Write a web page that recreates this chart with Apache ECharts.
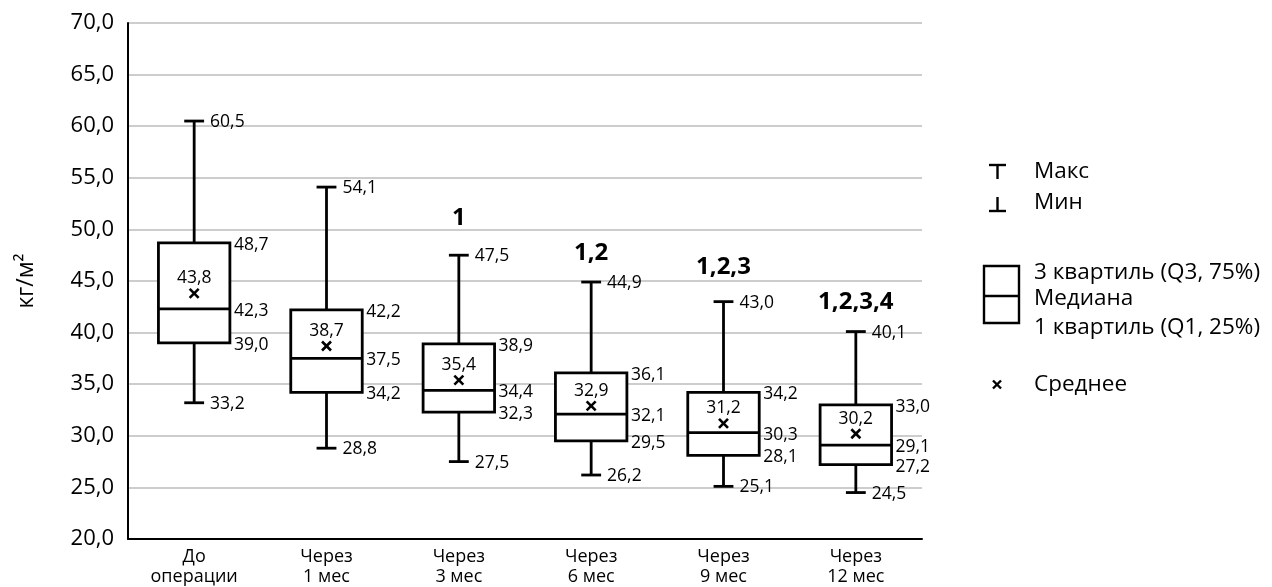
<!DOCTYPE html>
<html>
<head>
<meta charset="utf-8">
<script src="https://cdn.jsdelivr.net/npm/echarts@6/dist/echarts.min.js"></script>
<style>
  html, body { margin: 0; padding: 0; background: #ffffff; }
  #chart { width: 1272px; height: 587px; }
</style>
</head>
<body>
<div id="chart"></div>
<script>
// Body mass index (кг/м²) before surgery and at follow-up points
const categories = ['До\nоперации', 'Через\n1 мес', 'Через\n3 мес', 'Через\n6 мес', 'Через\n9 мес', 'Через\n12 мес'];
const minValues    = [33.2, 28.8, 27.5, 26.2, 25.1, 24.5];
const q1Values     = [39.0, 34.2, 32.3, 29.5, 28.1, 27.2];
const medianValues = [42.3, 37.5, 34.4, 32.1, 30.3, 29.1];
const q3Values     = [48.7, 42.2, 38.9, 36.1, 34.2, 33.0];
const maxValues    = [60.5, 54.1, 47.5, 44.9, 43.0, 40.1];
const meanValues   = [43.8, 38.7, 35.4, 32.9, 31.2, 30.2];
// significant difference vs. earlier time points
const significance = ['', '', '1', '1,2', '1,2,3', '1,2,3,4'];

const yMin = 20, yMax = 70, yStep = 5;

// pixel lift of the significance marks above the top whisker
const sigLift = [0, 0, 37, 29, 34, 29];

const FONT = '"Open Sans", "Noto Sans", sans-serif';
const fmt = v => v.toFixed(1).replace('.', ',');

const rows = categories.map((c, i) => [i, minValues[i], q1Values[i], medianValues[i], q3Values[i], maxValues[i], meanValues[i]]);

const LW = 2.8;
const LABEL_SIZE = 17.5;
function lineEl(x1, y1, x2, y2, w) {
  return { type: 'line', shape: { x1, y1, x2, y2 }, style: { stroke: '#000', lineWidth: w || LW, lineCap: 'butt' } };
}
function textEl(text, x, y, align, size, weight) {
  return {
    type: 'text', x, y, z2: 10,
    style: {
      text, fill: '#000',
      font: (weight || 'normal') + ' ' + size + 'px ' + FONT,
      align, verticalAlign: 'middle',
      textAlign: align, textVerticalAlign: 'middle'
    }
  };
}

function renderBox(params, api) {
  const i = api.value(0);
  const vMin = api.value(1), vQ1 = api.value(2), vMed = api.value(3),
        vQ3 = api.value(4), vMax = api.value(5), vMean = api.value(6);
  const x = api.coord([i, vMin])[0];
  const y = v => api.coord([i, v])[1];
  const band = api.size([1, 0])[0];
  const half = band * 0.27;
  const cap = band * 0.075;

  const yMinP = y(vMin), yQ1 = y(vQ1), yMed = y(vMed), yQ3 = y(vQ3), yMaxP = y(vMax), yMean = y(vMean);
  const m = 4.5;
  const children = [
    lineEl(x, yQ3, x, yMaxP),
    lineEl(x, yQ1, x, yMinP),
    lineEl(x - cap, yMaxP, x + cap, yMaxP),
    lineEl(x - cap, yMinP, x + cap, yMinP),
    { type: 'rect', shape: { x: x - half, y: yQ3, width: half * 2, height: yQ1 - yQ3 },
      style: { fill: '#fff', stroke: '#000', lineWidth: LW } },
    lineEl(x - half, yMed, x + half, yMed),
    lineEl(x - m, yMean - m, x + m, yMean + m, 2.6),
    lineEl(x - m, yMean + m, x + m, yMean - m, 2.6),
    textEl(fmt(vMean), x, yMean - 15, 'center', LABEL_SIZE),
    textEl(fmt(vMax), x + cap + 6, yMaxP + 1, 'left', LABEL_SIZE),
    textEl(fmt(vMin), x + cap + 6, yMinP + 1, 'left', LABEL_SIZE),
    textEl(fmt(vQ3), x + half + 4, yQ3 + 2, 'left', LABEL_SIZE),
    textEl(fmt(vMed), x + half + 4, yMed + 2, 'left', LABEL_SIZE),
    textEl(fmt(vQ1), x + half + 4, yQ1 + 2, 'left', LABEL_SIZE)
  ];
  if (significance[i]) {
    children.push(textEl(significance[i], x, yMaxP - sigLift[i], 'center', 24, 'bold'));
  }
  return { type: 'group', children };
}

// legend drawn as plain graphics on the right
const legendFont = '22.5px ' + FONT;
function legText(text, left, cy) {
  return { type: 'text', x: left, y: cy, style: { text, fill: '#000', font: legendFont, align: 'left', verticalAlign: 'middle', textAlign: 'left', textVerticalAlign: 'middle' } };
}
function legLine(x1, y1, x2, y2, w) {
  return { type: 'line', shape: { x1, y1, x2, y2 }, style: { stroke: '#000', lineWidth: w || 2.4 } };
}
const legendGraphics = [
  legLine(989, 165, 1006, 165), legLine(997.5, 165, 997.5, 179),
  legLine(989, 211, 1006, 211), legLine(997.5, 197, 997.5, 211),
  legText('Макс', 1034, 172),
  legText('Мин', 1034, 203),
  { type: 'rect', shape: { x: 984, y: 266, width: 35, height: 57 }, style: { fill: 'none', stroke: '#000', lineWidth: 2.4 } },
  legLine(984, 296, 1019, 296),
  legText('3 квартиль (Q3, 75%)', 1034, 273),
  legText('Медиана', 1034, 299),
  legText('1 квартиль (Q1, 25%)', 1034, 328),
  legLine(993, 380.5, 1001, 388.5, 2.4), legLine(993, 388.5, 1001, 380.5, 2.4),
  legText('Среднее', 1034, 385)
];

const chart = echarts.init(document.getElementById('chart'), null, { renderer: 'canvas' });
chart.setOption({
  animation: false,
  backgroundColor: '#ffffff',
  textStyle: { fontFamily: FONT },
  grid: { left: 128, right: 350, top: 23, bottom: 48, containLabel: false },
  xAxis: {
    type: 'category',
    data: categories,
    boundaryGap: true,
    axisLine: { show: true, lineStyle: { color: '#000', width: 2 } },
    axisTick: { show: false },
    axisLabel: { color: '#000', fontSize: 18, lineHeight: 20, margin: 8, fontFamily: FONT, interval: 0 },
    splitLine: { show: false }
  },
  yAxis: {
    type: 'value',
    min: yMin, max: yMax, interval: yStep,
    name: 'кг/м²',
    nameLocation: 'middle',
    nameGap: 90,
    nameRotate: 90,
    nameTextStyle: { color: '#000', fontSize: 23, fontFamily: FONT },
    axisLine: { show: true, lineStyle: { color: '#000', width: 2 } },
    axisTick: { show: false },
    axisLabel: { color: '#000', fontSize: 22, margin: 14, fontFamily: FONT, formatter: v => fmt(v) },
    splitLine: { show: true, lineStyle: { color: '#bdbdbd', width: 1.5 } }
  },
  graphic: legendGraphics,
  series: [{
    type: 'custom',
    renderItem: renderBox,
    encode: { x: 0, y: [1, 2, 3, 4, 5, 6] },
    data: rows,
    clip: false
  }]
});
</script>
</body>
</html>
